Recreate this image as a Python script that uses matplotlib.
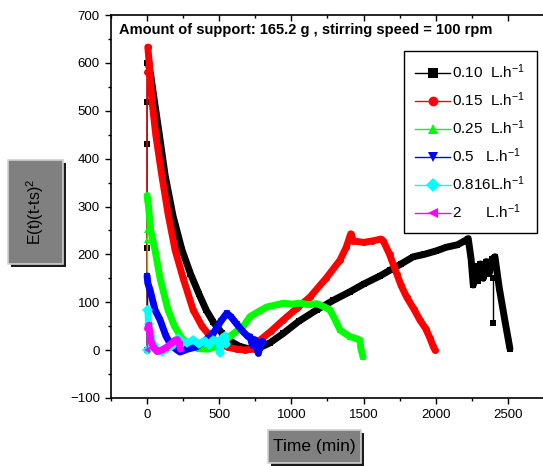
import matplotlib

matplotlib.use("Agg")
from matplotlib import pyplot as plt
from matplotlib.lines import Line2D
from matplotlib.patches import Rectangle
from matplotlib.ticker import MultipleLocator

plt.rcParams["font.family"] = ["Liberation Sans", "DejaVu Sans"]
plt.rcParams["mathtext.default"] = "regular"

# ---- data (time in min, E(t)(t-ts)^2) ----
series_labels = [
    "0.10  L.h$^{-1}$",
    "0.15  L.h$^{-1}$",
    "0.25  L.h$^{-1}$",
    "0.5   L.h$^{-1}$",
    "0.816L.h$^{-1}$",
    "2      L.h$^{-1}$",
]

black_start_t = [0, 0, 0, 0, 2]
black_start_y = [0, 213, 430, 518, 600]
black_t = [8, 25, 50, 85, 125, 180, 242, 300, 360, 409, 460, 520, 580, 640, 713, 780,
           850, 944, 1050, 1175, 1290, 1406, 1500, 1614, 1683, 1760, 1844, 1920, 2000,
           2075, 2150, 2200, 2225, 2245, 2260, 2275, 2290, 2310, 2330, 2350, 2370, 2390,
           2410, 2440, 2480, 2514]
black_y = [600, 575, 522, 450, 365, 280, 209, 160, 117, 84, 58, 35, 18, 8, 2, 5,
           15, 35, 60, 84, 104, 122, 138, 155, 167, 180, 195, 200, 207,
           215, 220, 228, 233, 190, 136, 175, 145, 180, 150, 185, 160, 190,
           195, 130, 60, 3]
black_spike_t = [2398, 2398]
black_spike_y = [150, 56]

red_start_t = [0, 0, 3]
red_start_y = [0, 580, 633]
red_t = [5, 15, 33, 60, 102, 145, 194, 250, 319, 380, 440, 500, 560, 620, 680, 740,
         783, 860, 944, 1040, 1129, 1240, 1337, 1380, 1411, 1430, 1500, 1560, 1620,
         1637, 1680, 1729, 1760, 1798, 1850, 1890, 1930, 1960, 1982, 1995]
red_y = [633, 600, 522, 450, 365, 285, 209, 150, 84, 50, 28, 14, 6, 2, 0, 3,
         21, 40, 63, 88, 111, 150, 188, 215, 243, 228, 225, 228, 232,
         228, 200, 160, 135, 111, 85, 63, 45, 25, 8, 0]

green_start_t = [0, 0, 0, 0]
green_start_y = [0, 230, 250, 315]
green_t = [0, 10, 25, 55, 90, 145, 190, 240, 300, 360, 420, 480, 540, 600, 667, 713,
           780, 829, 900, 944, 1000, 1060, 1120, 1175, 1230, 1267, 1300, 1337, 1370,
           1406, 1440, 1475, 1480, 1496]
green_y = [323, 300, 250, 209, 150, 84, 50, 25, 10, 3, 2, 8, 20, 35, 50, 70,
           82, 90, 95, 98, 96, 98, 95, 97, 90, 84, 65, 42, 35,
           28, 25, 21, 5, -14]

blue_start_t = [0, 0]
blue_start_y = [0, 155]
blue_t = [0, 5, 21, 55, 90, 130, 159, 200, 228, 280, 344, 400, 459, 510, 552, 580,
          620, 660, 700, 713, 730, 745, 771, 790, 805]
blue_y = [155, 140, 125, 84, 63, 30, 14, 2, -4, 2, 7, 20, 35, 60, 77, 70,
          55, 40, 28, 28, 10, 22, -7, 18, 17]

cyan_start_t = [0, 0]
cyan_start_y = [0, 84]
cyan_t = [5, 10, 25, 45, 67, 100, 140, 180, 215, 240, 280, 320, 360, 400, 430, 460,
          490, 505, 520, 540, 550]
cyan_y = [84, 55, 30, 10, 0, -3, 3, 10, 25, 18, 15, 22, 12, 20, 10, 22,
          18, -5, 25, 30, 12]

magenta_start_t = [0, 0]
magenta_start_y = [0, 45]
magenta_t = [3, 12, 25, 45, 70, 100, 130, 160, 190, 210, 225, 230]
magenta_y = [45, 52, 20, 5, -3, 0, 5, 12, 20, 22, 12, 2]

colors = ["#000000", "#ff0000", "#00ff00", "#0000ff", "#00ffff", "#ff00ff"]
markers = ["s", "o", "^", "v", "D", "<"]

curves = [
    (black_start_t, black_start_y, black_t, black_y),
    (red_start_t, red_start_y, red_t, red_y),
    (green_start_t, green_start_y, green_t, green_y),
    (blue_start_t, blue_start_y, blue_t, blue_y),
    (cyan_start_t, cyan_start_y, cyan_t, cyan_y),
    (magenta_start_t, magenta_start_y, magenta_t, magenta_y),
]

W, H = 543, 466
fig = plt.figure(figsize=(W / 100, H / 100), dpi=100)
fig.patch.set_facecolor("white")

# axes box in pixels: left 111, right 544 (just off the image), top 15, bottom 398
ax = fig.add_axes([111 / W, (H - 398) / H, (544 - 111) / W, (398 - 15) / H])

for (st, sy, mt, my), color, marker in zip(curves, colors, markers):
    ax.plot(st, sy, color=color, linewidth=1.0, marker=marker, markersize=5,
            markeredgewidth=0)
    ax.plot(mt, my, color=color, linewidth=5.0, marker=marker, markersize=5,
            markeredgewidth=0, solid_joinstyle="round", solid_capstyle="round")
    if color == "#000000":
        ax.plot(black_spike_t, black_spike_y, color=color, linewidth=1.0,
                marker="s", markersize=5, markeredgewidth=0)

ax.set_xlim(-250, 2750)
ax.set_ylim(-100, 700)
ax.xaxis.set_major_locator(MultipleLocator(500))
ax.xaxis.set_minor_locator(MultipleLocator(250))
ax.yaxis.set_major_locator(MultipleLocator(100))
ax.yaxis.set_minor_locator(MultipleLocator(50))
ax.tick_params(axis="both", which="major", length=4.5, width=1, labelsize=9.5,
               direction="out", right=False)
ax.tick_params(axis="both", which="minor", length=2.5, width=1,
               direction="out", right=False)
ax.tick_params(axis="x", which="both", top=True, labeltop=False)
for spine in ("left", "bottom", "top"):
    ax.spines[spine].set_linewidth(1.2)
ax.spines["right"].set_visible(False)
for tick in ax.xaxis.get_major_ticks() + ax.xaxis.get_minor_ticks():
    tick.tick2line.set_marker(3)

ax.text(0.018, 0.961, "Amount of support: 165.2 g , stirring speed = 100 rpm",
        transform=ax.transAxes, ha="left", va="center", fontsize=10.5,
        fontweight="bold")

handles = [
    Line2D([0], [0], color=c, marker=m, linewidth=1.0, markersize=7, markeredgewidth=0)
    for c, m in zip(colors, markers)
]
ax.legend(handles, series_labels, loc="upper right",
          bbox_to_anchor=(537 / W, 1 - 51 / H), bbox_transform=fig.transFigure,
          frameon=True, fancybox=False, edgecolor="black", framealpha=1,
          fontsize=11, handlelength=2.3, handletextpad=0.15, labelspacing=0.62,
          borderpad=0.75, borderaxespad=0)
ax.get_legend().get_frame().set_linewidth(1.0)


def shaded_box(x0, y0, x1, y1, text, rotation=0, fontsize=10.5):
    # grey label plate with a dark drop shadow, in pixel coordinates
    shadow = Rectangle(((x0 + 3) / W, (H - y1 - 3) / H), (x1 - x0) / W,
                       (y1 - y0) / H, transform=fig.transFigure,
                       facecolor="#1a1a1a", edgecolor="none", zorder=1)
    plate = Rectangle((x0 / W, (H - y1) / H), (x1 - x0) / W, (y1 - y0) / H,
                      transform=fig.transFigure, facecolor="#808080",
                      edgecolor="#d0d0d0", linewidth=1.2, zorder=2)
    fig.patches.extend([shadow, plate])
    fig.text((x0 + x1) / 2 / W, 1 - (y0 + y1) / 2 / H, text, ha="center",
             va="center", rotation=rotation, fontsize=fontsize, color="black",
             zorder=3)


shaded_box(8, 160, 63, 264, "E(t)(t-ts)$^2$", rotation=90, fontsize=11.5)
shaded_box(268, 430, 361, 463, "Time (min)", fontsize=12.5)

fig.savefig("out.png", dpi=100)
